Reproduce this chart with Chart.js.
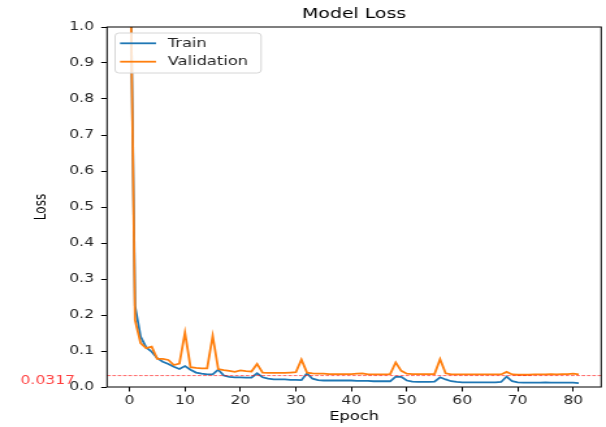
<!DOCTYPE html>
<html>
<head>
<meta charset="utf-8">
<script src="https://cdn.jsdelivr.net/npm/chart.js@4"></script>
<style>
  html, body { margin: 0; padding: 0; background: #fff; overflow: hidden; }
  #wrap { width: 466px; height: 427px; transform: scaleX(1.3004); transform-origin: 0 0; }
</style>
</head>
<body>
<div id="wrap"><canvas id="chart" width="466" height="427"></canvas></div>
<script>
const epochs = Array.from({ length: 82 }, (_, i) => i);
const trainLoss = [
  1.34, 0.225, 0.14, 0.11, 0.098, 0.08, 0.07, 0.064, 0.056, 0.05,
  0.058, 0.048, 0.04, 0.037, 0.035, 0.035, 0.048, 0.032, 0.028, 0.027,
  0.027, 0.026, 0.026, 0.038, 0.027, 0.023, 0.021, 0.021, 0.021, 0.02,
  0.02, 0.019, 0.038, 0.023, 0.019, 0.018, 0.018, 0.018, 0.018, 0.018,
  0.018, 0.017, 0.017, 0.017, 0.016, 0.016, 0.016, 0.016, 0.029, 0.028,
  0.018, 0.015, 0.014, 0.014, 0.014, 0.015, 0.027, 0.021, 0.016, 0.014,
  0.013, 0.013, 0.013, 0.013, 0.013, 0.013, 0.013, 0.014, 0.029, 0.016,
  0.013, 0.012, 0.012, 0.012, 0.012, 0.013, 0.012, 0.012, 0.012, 0.012,
  0.012, 0.011
];
const valLoss = [
  1.35, 0.186, 0.122, 0.108, 0.112, 0.078, 0.078, 0.075, 0.061, 0.065,
  0.151, 0.055, 0.053, 0.052, 0.052, 0.142, 0.05, 0.047, 0.045, 0.042,
  0.046, 0.044, 0.043, 0.064, 0.04, 0.039, 0.039, 0.039, 0.039, 0.04,
  0.041, 0.076, 0.04, 0.038, 0.037, 0.037, 0.036, 0.036, 0.036, 0.036,
  0.036, 0.037, 0.038, 0.035, 0.035, 0.035, 0.035, 0.036, 0.068, 0.045,
  0.037, 0.036, 0.036, 0.036, 0.036, 0.036, 0.077, 0.038, 0.035, 0.035,
  0.035, 0.035, 0.035, 0.035, 0.035, 0.035, 0.035, 0.035, 0.042, 0.035,
  0.034, 0.034, 0.034, 0.035, 0.035, 0.035, 0.036, 0.035, 0.036, 0.036,
  0.037, 0.035
];
const xTicks = [0, 10, 20, 30, 40, 50, 60, 70, 80];
const refLoss = 0.0317;

const FONT = "'DejaVu Sans', sans-serif";

// dashed reference line, its label, box around the axes and the legend
const extras = {
  id: 'extras',
  afterDatasetsDraw(chart) {
    const { ctx, chartArea: a, scales: { y } } = chart;
    const py = y.getPixelForValue(refLoss);
    ctx.save();
    ctx.strokeStyle = 'rgba(255,0,0,0.6)';
    ctx.lineWidth = 1;
    ctx.setLineDash([2.8, 1.3]);
    ctx.beginPath();
    ctx.moveTo(a.left, py);
    ctx.lineTo(a.right, py);
    ctx.stroke();
    ctx.setLineDash([]);

    ctx.fillStyle = 'rgba(255,0,0,0.75)';
    ctx.font = '12px ' + FONT;
    ctx.textAlign = 'right';
    ctx.textBaseline = 'middle';
    ctx.fillText(refLoss.toString(), 57.7, py + 5);

    ctx.strokeStyle = '#000';
    ctx.lineWidth = 1;
    ctx.strokeRect(a.left, a.top, a.right - a.left, a.bottom - a.top);

    // legend
    const lx = a.left + 6.2, ly = a.top + 6, lw = 112.3, lh = 40;
    ctx.beginPath();
    ctx.roundRect(lx, ly, lw, lh, 3);
    ctx.fillStyle = 'rgba(255,255,255,0.8)';
    ctx.fill();
    ctx.strokeStyle = '#d6d6d6';
    ctx.stroke();
    ctx.font = '12.5px ' + FONT;
    ctx.textAlign = 'left';
    chart.data.datasets.forEach((ds, i) => {
      const rowY = ly + 10.3 + i * 18.4;
      ctx.strokeStyle = ds.borderColor;
      ctx.lineWidth = 1.8;
      ctx.beginPath();
      ctx.moveTo(lx + 3.8, rowY);
      ctx.lineTo(lx + 31.5, rowY);
      ctx.stroke();
      ctx.fillStyle = '#262626';
      ctx.fillText(ds.label, lx + 40.5, rowY);
    });
    ctx.restore();
  }
};

new Chart(document.getElementById('chart'), {
  type: 'line',
  data: {
    datasets: [
      {
        label: 'Train',
        data: epochs.map((e, i) => ({ x: e, y: trainLoss[i] })),
        borderColor: '#1f77b4',
        borderWidth: 1.8,
        pointRadius: 0,
        tension: 0,
        order: 1,
      },
      {
        label: 'Validation',
        data: epochs.map((e, i) => ({ x: e, y: valLoss[i] })),
        borderColor: '#ff7f0e',
        borderWidth: 1.8,
        pointRadius: 0,
        tension: 0,
        order: 0,
      },
    ],
  },
  options: {
    responsive: false,
    animation: false,
    devicePixelRatio: 1,
    layout: { padding: { left: 0, right: 3.7, top: 0, bottom: 0 } },
    plugins: {
      legend: { display: false },
      tooltip: { enabled: false },
      title: {
        display: true,
        text: 'Model Loss',
        fullSize: false,
        color: '#000',
        font: { family: FONT, size: 14.5, weight: 'normal' },
        padding: { top: 5.3, bottom: 4.3 },
      },
    },
    scales: {
      x: {
        type: 'linear',
        min: -4.05,
        max: 85.05,
        afterBuildTicks: (s) => { s.ticks = xTicks.map(v => ({ value: v })); },
        afterFit: (s) => { s.height = 40; },
        grid: { drawOnChartArea: false, drawTicks: true, tickLength: 4.5, color: '#000' },
        border: { display: false },
        ticks: { color: '#262626', font: { family: FONT, size: 12 }, padding: 2, maxRotation: 0 },
        title: { display: true, text: 'Epoch', color: '#000', font: { family: FONT, size: 12.5 }, padding: { top: 0, bottom: 2.8 } },
      },
      y: {
        min: 0,
        max: 1,
        afterFit: (s) => { s.width = 82.3; },
        grid: { drawOnChartArea: false, drawTicks: true, tickLength: 4.5, color: '#000' },
        border: { display: false },
        ticks: { stepSize: 0.1, color: '#262626', font: { family: FONT, size: 12 }, padding: 5.5, callback: (v) => v.toFixed(1) },
        title: { display: true, text: 'Loss', color: '#000', font: { family: FONT, size: 12 }, padding: { top: 24.8, bottom: 0 } },
      },
    },
  },
  plugins: [extras],
});
</script>
</body>
</html>
